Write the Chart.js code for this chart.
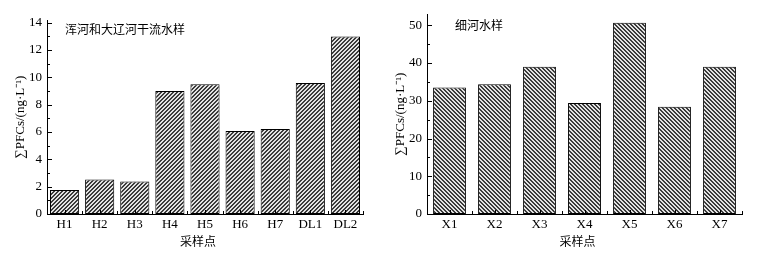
<!DOCTYPE html>
<html>
<head>
<meta charset="utf-8">
<script src="https://cdn.jsdelivr.net/npm/chart.js@4"></script>
<style>
html,body{margin:0;padding:0;background:#fff;overflow:hidden;}
.wrap{position:absolute;top:0;height:259px;}
</style>
</head>
<body>
<div class="wrap" style="left:0;width:380px"><canvas id="leftChart"></canvas></div>
<div class="wrap" style="left:390px;width:387px"><canvas id="rightChart"></canvas></div>
<script>
const leftSites = ["H1","H2","H3","H4","H5","H6","H7","DL1","DL2"];
const leftPFCs = [1.75,2.53,2.37,9.0,9.5,6.08,6.23,9.58,13.0];
const rightSites = ["X1","X2","X3","X4","X5","X6","X7"];
const rightPFCs = [33.5,34.4,39.0,29.4,50.7,28.4,39.0];

const serif = "'Liberation Serif','Times New Roman',serif";
const cjk = "'Noto Sans CJK SC',sans-serif";

// hatch fill: dir 1 = "/", -1 = "\"
function hatch(dir){
  const c = document.createElement("canvas");
  c.width = 4; c.height = 4;
  const g = c.getContext("2d");
  for(let x=0;x<4;x++) for(let y=0;y<4;y++){
    const k = ((dir>0 ? x+y : x-y) % 4 + 4) % 4;
    g.fillStyle = k<2 ? "#3a3a3a" : "#e2e2e2";
    g.fillRect(x,y,1,1);
  }
  return g.createPattern(c,"repeat");
}

// inward ticks + text labels
const decor = {
  id:"decor",
  afterDraw(chart, args, o){
    const {ctx, chartArea:a, scales:{x,y}} = chart;
    ctx.save();
    ctx.strokeStyle = "#000";
    ctx.lineWidth = 1;
    ctx.beginPath();
    for(let v=0; v<=y.max+1e-9; v+=o.minor){
      const py = Math.round(y.getPixelForValue(v))+0.5;
      const len = Math.abs(v/o.major - Math.round(v/o.major))<1e-6 ? 5 : 3;
      ctx.moveTo(a.left, py); ctx.lineTo(a.left+len, py);
    }
    const n = x.ticks.length;
    for(let i=0;i<n;i++){
      let px = Math.round(x.getPixelForValue(i))+0.5;
      ctx.moveTo(px, a.bottom); ctx.lineTo(px, a.bottom-4);
      px = Math.round(x.getPixelForValue(i+0.5))+0.5;
      ctx.moveTo(px, a.bottom); ctx.lineTo(px, a.bottom-3);
    }
    ctx.stroke();

    ctx.fillStyle = "#000";
    ctx.font = "12px " + cjk;
    ctx.textBaseline = "middle";
    ctx.textAlign = "left";
    ctx.fillText(o.label, o.labelX, o.labelY);
    ctx.textAlign = "center";
    ctx.fillText("采样点", (a.left+a.right)/2 - 7, 241);

    ctx.translate(a.left-26, (a.top+a.bottom)/2);
    ctx.rotate(-Math.PI/2);
    ctx.font = "13px " + serif;
    ctx.fillText("∑PFCs/(ng·L⁻¹)", 0, 0);
    ctx.restore();
  }
};

function draw(id, labels, values, opt){
  return new Chart(document.getElementById(id),{
    type:"bar",
    data:{
      labels:labels,
      datasets:[{
        data:values,
        backgroundColor:hatch(opt.dir),
        borderColor:"#000",
        borderWidth:1,
        borderSkipped:false,
        barPercentage:opt.barPct,
        categoryPercentage:1
      }]
    },
    options:{
      responsive:true,
      maintainAspectRatio:false,
      animation:false,
      layout:{ padding:{top:opt.top, right:opt.right, left:0, bottom:0} },
      plugins:{
        legend:{display:false},
        tooltip:{enabled:false},
        decor:{ major:opt.step, minor:opt.step/2, label:opt.label, labelX:opt.labelX, labelY:opt.labelY }
      },
      scales:{
        x:{
          grid:{display:false,drawTicks:false},
          border:{display:true,color:"#000",width:1},
          ticks:{color:"#000",font:{family:serif,size:13},padding:3,maxRotation:0},
          afterFit(s){ s.height = 45; }
        },
        y:{
          min:0, max:opt.max,
          grid:{display:false,drawTicks:false},
          border:{display:true,color:"#000",width:1},
          ticks:{stepSize:opt.step,includeBounds:false,color:"#000",font:{family:serif,size:13},padding:5},
          afterFit(s){ s.width = opt.axisW; }
        }
      }
    },
    plugins:[decor]
  });
}

draw("leftChart", leftSites, leftPFCs, {
  dir:1, barPct:0.83, max:14.2, step:2, top:20, right:17, axisW:47,
  label:"浑河和大辽河干流水样", labelX:65, labelY:29
});
draw("rightChart", rightSites, rightPFCs, {
  dir:-1, barPct:0.73, max:53, step:10, top:14, right:35, axisW:37,
  label:"细河水样", labelX:65, labelY:25
});
</script>
</body>
</html>
